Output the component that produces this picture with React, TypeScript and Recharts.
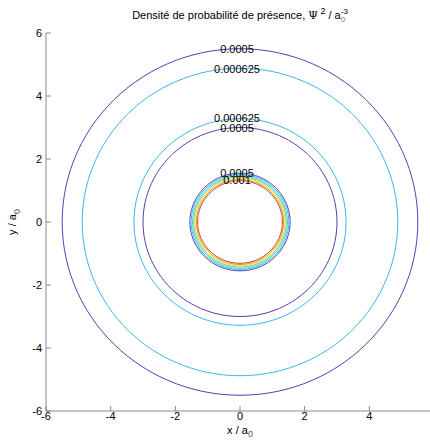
import { ScatterChart, Scatter, XAxis, YAxis } from "recharts";

// contour levels (probability density) and the radius (in a0) where each one sits
const contourLevels = [0.0005, 0.000625, 0.000625, 0.0005, 0.0005, 0.000625, 0.00075, 0.000875, 0.001, 0.001125, 0.00125];
const contourRadii = [5.5, 4.88, 3.28, 3.0, 1.55, 1.51, 1.47, 1.43, 1.39, 1.35, 1.31];

// clabel texts and the y where they are placed (x = 0)
const labelTexts = ["0.0005", "0.000625", "0.000625", "0.0005", "0.0005", "0.001"];
const labelYs = [5.5, 4.86, 3.3, 2.98, 1.55, 1.33];

const yTicks = [-6, -4, -2, 0, 2, 4, 6];
const xTicks = [-6, -4, -2, 0, 2, 4];
const angleSteps = Array.from({ length: 121 }, (_, i) => (i * 2 * Math.PI) / 120);

const levelColor = (lvl: number) => {
  if (lvl <= 0.0005) return "#4f42b8";
  if (lvl <= 0.000625) return "#42b2f5";
  if (lvl <= 0.00075) return "#38d8e0";
  if (lvl <= 0.000875) return "#5ed86a";
  if (lvl <= 0.001) return "#e8dc3c";
  if (lvl <= 0.001125) return "#f09030";
  return "#d03a2a";
};

const circles = contourRadii.map((r, i) => ({
  level: contourLevels[i],
  points: angleSteps.map((a) => ({ x: r * Math.cos(a), y: r * Math.sin(a) })),
}));

const labels = labelTexts.map((t, i) => ({ x: 0, y: labelYs[i], text: t }));

const NoDot = () => <g />;

const LabelShape = (props: any) => (
  <text
    x={props.cx - 3}
    y={props.cy}
    textAnchor="middle"
    dominantBaseline="central"
    fontSize={11}
    fill="#000"
  >
    {props.payload.text}
  </text>
);

const font = '"Liberation Sans", Arial, sans-serif';

export default function App() {
  return (
    <div
      style={{
        position: "absolute",
        left: 0,
        top: 0,
        width: 430,
        height: 445,
        overflow: "hidden",
        background: "#fff",
        fontFamily: font,
      }}
    >
      <div
        style={{
          position: "absolute",
          top: 6,
          left: 0,
          width: 480,
          textAlign: "center",
          fontSize: 11,
          color: "#000",
          whiteSpace: "nowrap",
        }}
      >
        Densité de probabilité de présence,{" "}
        <span style={{ fontFamily: "'DejaVu Serif', serif" }}>Ψ</span>
        <sup style={{ fontSize: 9 }}> 2</sup> / a
        <span style={{ display: "inline-block", verticalAlign: "middle", lineHeight: "8px", fontSize: 8, textAlign: "left" }}>
          <span style={{ display: "block" }}>-3</span>
          <span style={{ display: "block", color: "#777" }}>0</span>
        </span>
      </div>

      <ScatterChart
        width={440}
        height={445}
        margin={{ top: 33, right: 6, bottom: 4, left: 16 }}
        style={{ position: "absolute", left: 0, top: 0, fontFamily: font }}
      >
        <XAxis
          xAxisId="b"
          type="number"
          dataKey="x"
          domain={[-6, 6]}
          ticks={xTicks}
          allowDataOverflow
          height={30}
          stroke="#8a8a8a"
          tickSize={-5}
          tickMargin={6}
          tick={{ fill: "#000", fontSize: 11 }}
        />
        <XAxis
          xAxisId="t"
          orientation="top"
          type="number"
          dataKey="x"
          domain={[-6, 6]}
          ticks={xTicks}
          allowDataOverflow
          height={0}
          stroke="#8a8a8a"
          tickSize={-5}
          tick={false}
        />
        <YAxis
          yAxisId="l"
          type="number"
          dataKey="y"
          domain={[-6, 6]}
          ticks={yTicks}
          allowDataOverflow
          width={30}
          stroke="#8a8a8a"
          tickSize={-5}
          tickMargin={9}
          tick={{ fill: "#000", fontSize: 11 }}
        />
        {circles.map((c, i) => (
          <Scatter
            key={i}
            xAxisId="b"
            yAxisId="l"
            data={c.points}
            line={{ stroke: levelColor(c.level), strokeWidth: 1 }}
            lineType="joint"
            shape={NoDot}
            isAnimationActive={false}
          />
        ))}
        <Scatter
          xAxisId="b"
          yAxisId="l"
          data={labels}
          shape={LabelShape}
          isAnimationActive={false}
        />
      </ScatterChart>

      <div
        style={{ position: "absolute", top: 424, left: 0, width: 480, textAlign: "center", fontSize: 11, color: "#000" }}
      >
        x / a<sub style={{ fontSize: 9, color: "#555" }}>0</sub>
      </div>
      <div
        style={{
          position: "absolute",
          left: 14,
          top: 222,
          transform: "translate(-50%, -50%) rotate(-90deg)",
          fontSize: 11,
          color: "#000",
          whiteSpace: "nowrap",
        }}
      >
        y / a<sub style={{ fontSize: 9, color: "#555" }}>0</sub>
      </div>
    </div>
  );
}
